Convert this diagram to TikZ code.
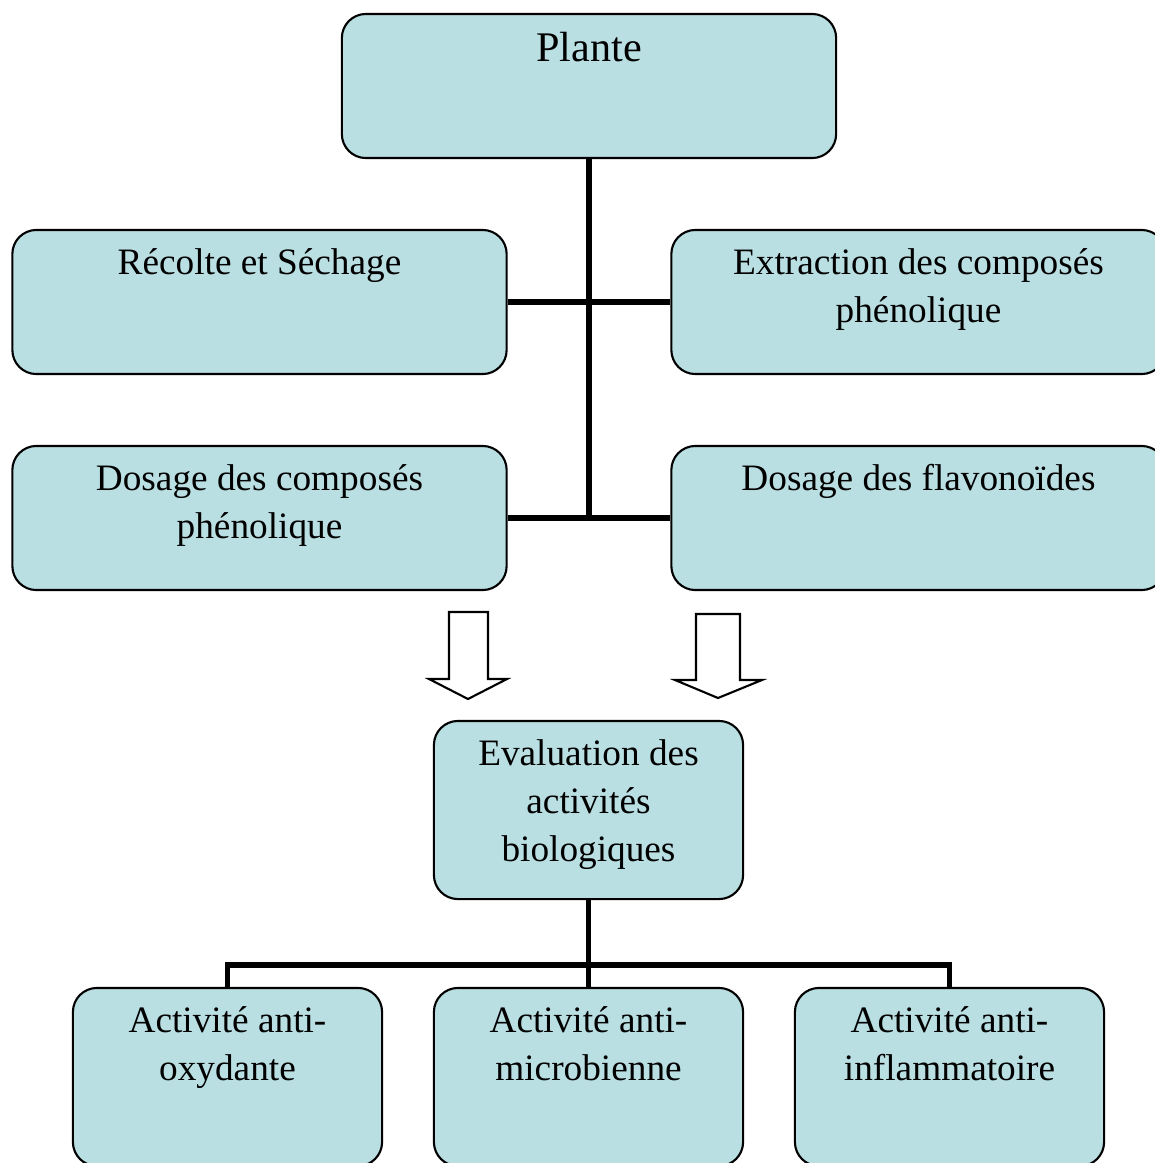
\documentclass[tikz,border=0pt]{standalone}
\usepackage{fontspec}
\setmainfont{Liberation Serif}
\definecolor{boxblue}{RGB}{185,223,227}

\begin{document}
\begin{tikzpicture}[
    x=0.01cm, y=-0.01cm,
    boite/.style={
      rectangle,
      rounded corners=0.24cm,
      draw=black,
      line width=0.6pt,
      fill=boxblue
    },
    wide/.style={boite, minimum width=4.94cm, minimum height=1.44cm},
    narrow/.style={boite, minimum width=3.09cm, minimum height=1.78cm},
    txt/.style={
      anchor=north,
      yshift=-0.11cm,
      inner sep=0pt,
      align=center,
      font=\fontsize{10.6}{13.66}\selectfont
    },
    lien/.style={line width=1.6pt},
    bigarrow/.style={draw=black, line width=0.6pt, fill=white, line join=miter}
  ]
  \useasboundingbox (0, 0) rectangle (1155, 1163);

  % top of the chart
  \node[
    wide,
    label={[txt, font=\fontsize{12}{14}\selectfont, yshift=-0.02cm]north:\strut Plante}
  ] (plante) at (589, 86) {};

  \node[
    wide,
    label={[txt]north:\strut R\'ecolte et S\'echage}
  ] (recolte) at (259.5, 302) {};
  \node[
    wide,
    label={[txt]north:\strut Extraction des compos\'es\\ph\'enolique}
  ] (extraction) at (918.5, 302) {};

  \node[
    wide,
    label={[txt]north:\strut Dosage des compos\'es\\ph\'enolique}
  ] (dosage) at (259.5, 518) {};
  \node[
    wide,
    label={[txt]north:\strut Dosage des flavono\"ides}
  ] (flavo) at (918.5, 518) {};

  \coordinate (centre) at (plante.south |- dosage.east);
  \draw[lien] (plante.south) -- (centre);
  \draw[lien] (recolte.east) -- (extraction.west);
  \draw[lien] (dosage.east) -- (flavo.west);

  % block arrows
  \draw[bigarrow] (449, 612) -- (488, 612) -- (488, 679) -- (507, 679)
    -- (468, 699) -- (429, 679) -- (449, 679) -- cycle;
  \draw[bigarrow] (696, 614) -- (740, 614) -- (740, 680) -- (762, 680)
    -- (718, 698) -- (675, 680) -- (696, 680) -- cycle;

  % evaluation and activities
  \node[
    narrow,
    label={[txt]north:\strut Evaluation des\\activit\'es\\biologiques}
  ] (eval) at (588.5, 810) {};

  \node[
    narrow,
    label={[txt]north:\strut Activit\'e anti-\\oxydante}
  ] (oxy) at (227.5, 1077) {};
  \node[
    narrow,
    label={[txt]north:\strut Activit\'e anti-\\microbienne}
  ] (micro) at (588.5, 1077) {};
  \node[
    narrow,
    label={[txt]north:\strut Activit\'e anti-\\inflammatoire}
  ] (inflam) at (949.5, 1077) {};

  \coordinate (barre) at (588.5, 965);
  \draw[lien] (eval.south) -- (micro.north);
  \draw[lien] (oxy.north) |- (barre) -| (inflam.north);

\end{tikzpicture}
\end{document}
